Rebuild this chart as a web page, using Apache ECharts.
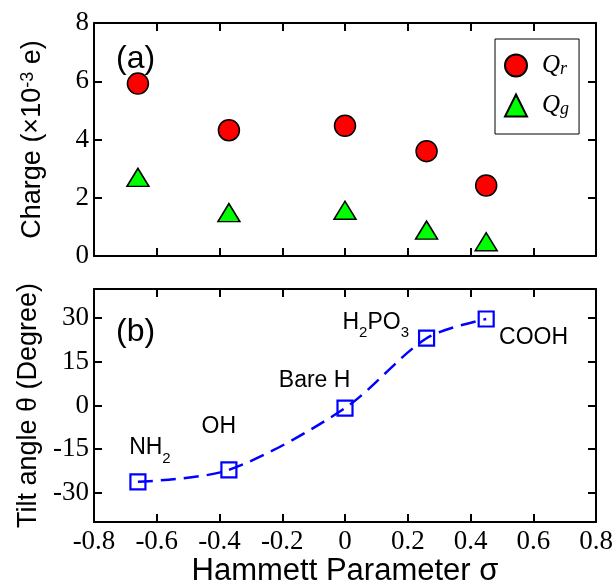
<!DOCTYPE html>
<html>
<head>
<meta charset="utf-8">
<title>Charge and tilt angle vs Hammett parameter</title>
<script src="https://cdn.jsdelivr.net/npm/echarts@6.0.0/dist/echarts.min.js"></script>
<style>
  html, body { margin: 0; padding: 0; background: #fff; }
  #chart { width: 612px; height: 581px; }
</style>
</head>
<body>
<div id="chart"></div>
<script>
// Hammett substituent constants of the five terminal groups
const sigma = [-0.66, -0.37, 0.0, 0.26, 0.45];
// Charge transfer (x10^-3 e)
const chargeQr = [5.92, 4.32, 4.47, 3.60, 2.42];
const chargeQg = [2.70, 1.49, 1.57, 0.89, 0.49];
// Tilt angle (degree)
const tiltAngle = [-26.2, -22.1, -0.9, 23.1, 29.7];
// Group names, written as rich text for subscripts
const groupLabels = ['NH{sub|2}', 'OH', 'Bare H', 'H{sub|2}PO{sub|3}', 'COOH'];
// Tick values
const xTicks = [-0.8, -0.6, -0.4, -0.2, 0, 0.2, 0.4, 0.6, 0.8];
const chargeTicks = [0, 2, 4, 6, 8];
const tiltTicks = [-30, -15, 0, 15, 30];

// Where each group name is anchored (left edge, vertical centre of the capitals) in data units
const labelAnchorX = [-0.688, -0.457, -0.211, -0.008, 0.491];
const labelAnchorY = [-14.4, -7.3, 8.7, 28.6, 23.2];

const SANS = 'Liberation Sans';
const SERIF = 'Liberation Serif';

const chart = echarts.init(document.getElementById('chart'), null, { renderer: 'canvas' });

function frameAxis(extra) {
  return Object.assign({
    axisLine: { show: true, onZero: false, lineStyle: { color: '#000', width: 2 } },
    axisTick: { show: true, inside: true, length: 8, lineStyle: { color: '#000', width: 2 } },
    splitLine: { show: false },
    axisLabel: { show: false }
  }, extra);
}

const xCommon = { type: 'value', min: xTicks[0], max: xTicks[xTicks.length - 1], interval: 0.2 };
const tickLabelStyle = { color: '#000', fontFamily: SERIF, fontSize: 27 };
const panelTag = { fontFamily: SANS, fontWeight: 'normal', fontSize: 32, color: '#000' };

const option = {
  animation: false,
  backgroundColor: '#fff',
  title: [
    { text: '(a)', left: 111, top: 38, textStyle: panelTag },
    { text: '(b)', left: 111, top: 311, textStyle: panelTag }
  ],
  grid: [
    { left: 94, right: 16, top: 23, height: 233, outerBoundsMode: 'none', containLabel: false },
    { left: 94, right: 16, top: 289, height: 233, outerBoundsMode: 'none', containLabel: false }
  ],
  xAxis: [
    frameAxis(Object.assign({ gridIndex: 0, position: 'bottom' }, xCommon)),
    frameAxis(Object.assign({ gridIndex: 0, position: 'top' }, xCommon)),
    frameAxis(Object.assign({
      gridIndex: 1, position: 'bottom',
      axisLabel: Object.assign({ show: true, margin: 6, formatter: v => String(+v.toFixed(1)) }, tickLabelStyle),
      name: 'Hammett Parameter σ', nameLocation: 'middle', nameGap: 24,
      nameTextStyle: { fontFamily: SANS, fontSize: 31, color: '#000' }
    }, xCommon)),
    frameAxis(Object.assign({ gridIndex: 1, position: 'top' }, xCommon))
  ],
  yAxis: [
    frameAxis({
      type: 'value', gridIndex: 0, position: 'left', min: chargeTicks[0], max: chargeTicks[chargeTicks.length - 1], interval: 2,
      axisLabel: Object.assign({ show: true, margin: 5 }, tickLabelStyle),
      name: 'Charge (×10{sup|-3} e)', nameLocation: 'middle', nameGap: 48,
      nameTextStyle: {
        fontFamily: SANS, fontSize: 27, color: '#000', lineHeight: 27,
        rich: { sup: { fontFamily: SANS, fontSize: 18, color: '#000', verticalAlign: 'top', lineHeight: 10 } }
      }
    }),
    frameAxis({ type: 'value', gridIndex: 0, position: 'right', min: 0, max: 8, interval: 2 }),
    frameAxis({
      type: 'value', gridIndex: 1, position: 'left', min: -40, max: 40,
      axisTick: { show: true, inside: true, length: 8, customValues: tiltTicks, lineStyle: { color: '#000', width: 2 } },
      axisLabel: Object.assign({ show: true, margin: 5, customValues: tiltTicks }, tickLabelStyle),
      name: 'Tilt angle θ (Degree)', nameLocation: 'middle', nameGap: 51,
      nameTextStyle: { fontFamily: SANS, fontSize: 27, color: '#000' }
    }),
    frameAxis({
      type: 'value', gridIndex: 1, position: 'right', min: -40, max: 40,
      axisTick: { show: true, inside: true, length: 8, customValues: tiltTicks, lineStyle: { color: '#000', width: 2 } }
    })
  ],
  legend: {
    data: ['Qr', 'Qg'],
    orient: 'vertical',
    left: 495, top: 39,
    padding: [14, 10, 16, 9],
    itemGap: 15,
    itemWidth: 22, itemHeight: 22,
    borderColor: '#000', borderWidth: 1,
    formatter: name => '{q|Q}{s|' + name.slice(1) + '}',
    textStyle: {
      rich: {
        q: { fontFamily: SERIF, fontStyle: 'italic', fontSize: 25, color: '#000', lineHeight: 25, padding: [0, 0, 0, 10] },
        s: { fontFamily: SERIF, fontStyle: 'italic', fontSize: 18, color: '#000', verticalAlign: 'bottom', lineHeight: 4 }
      }
    }
  },
  series: [
    {
      name: 'Qr', type: 'scatter', xAxisIndex: 0, yAxisIndex: 0,
      symbol: 'circle', symbolSize: 21,
      itemStyle: { color: '#ff0000', borderColor: '#000', borderWidth: 1.5, opacity: 1 },
      data: sigma.map((s, i) => [s, chargeQr[i]])
    },
    {
      name: 'Qg', type: 'scatter', xAxisIndex: 0, yAxisIndex: 0,
      symbol: 'triangle', symbolSize: [22, 18],
      itemStyle: { color: '#00ff00', borderColor: '#000', borderWidth: 1.5, opacity: 1 },
      data: sigma.map((s, i) => [s, chargeQg[i]])
    },
    {
      name: 'tilt', type: 'line', xAxisIndex: 2, yAxisIndex: 2,
      symbol: 'rect', symbolSize: 15, showAllSymbol: true,
      smooth: 0.3,
      lineStyle: { color: '#0000ff', width: 2.5, type: [15, 8] },
      itemStyle: { color: 'rgba(0,0,0,0)', borderColor: '#0000ff', borderWidth: 2.2 },
      data: sigma.map((s, i) => [s, tiltAngle[i]])
    },
    {
      name: 'groups', type: 'scatter', xAxisIndex: 2, yAxisIndex: 2,
      symbolSize: 0, itemStyle: { color: '#000', opacity: 1 }, silent: true,
      label: {
        show: true, position: 'right', distance: 0, opacity: 1,
        formatter: p => groupLabels[p.dataIndex],
        fontFamily: SANS, fontSize: 23, color: '#000', textBorderWidth: 0,
        rich: {
          sub: { fontFamily: SANS, fontSize: 15, color: '#000', padding: [22, 0, 0, 0] }
        }
      },
      data: labelAnchorX.map((x, i) => [x, labelAnchorY[i]])
    }
  ]
};

chart.setOption(option);
</script>
</body>
</html>
